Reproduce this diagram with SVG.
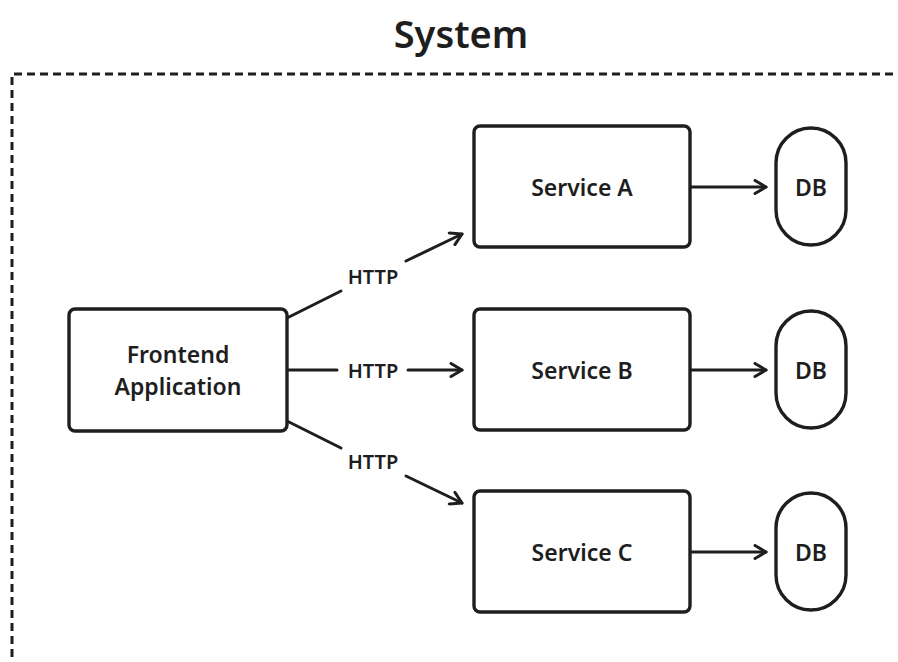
<svg xmlns="http://www.w3.org/2000/svg" width="898" height="662" viewBox="0 0 898 662">
  <defs>
    <marker id="arrow" viewBox="0 0 16 16" refX="14" refY="8" markerWidth="16" markerHeight="16" markerUnits="userSpaceOnUse" orient="auto">
      <path d="M3,1.5 L14,8 L3,14.5" fill="none" stroke="#1e1e1e" stroke-width="3" stroke-linecap="round" stroke-linejoin="round"/>
    </marker>
  </defs>
  <style>
    .box { fill: #ffffff; stroke: #1e1e1e; stroke-width: 3.4; }
    .label { font-family: "Noto Sans", "Liberation Sans", sans-serif; font-weight: 600; fill: #1e1e1e; text-anchor: middle; dominant-baseline: central; }
    .node-text { font-size: 23px; }
    .edge-text { font-size: 20px; }
    .edge { fill: none; stroke: #1e1e1e; stroke-width: 3; stroke-linecap: round; }
    .frame { fill: none; stroke: #1e1e1e; stroke-width: 3; stroke-dasharray: 8 5; }
  </style>
  <rect width="898" height="662" fill="#ffffff"/>

  <!-- system boundary -->
  <g id="system">
    <text class="label" x="461" y="33" font-size="38" font-weight="700">System</text>
    <path class="frame" d="M12,670 L12,74 L910,74"/>
  </g>

  <!-- connectors -->
  <g id="connectors">
    <line class="edge" x1="287" y1="318" x2="341" y2="291"/>
    <line class="edge" x1="406" y1="261" x2="462" y2="234" marker-end="url(#arrow)"/>
    <text class="label edge-text" x="373" y="276">HTTP</text>

    <line class="edge" x1="287" y1="370" x2="337" y2="370"/>
    <line class="edge" x1="408" y1="370" x2="462" y2="370" marker-end="url(#arrow)"/>
    <text class="label edge-text" x="373" y="370">HTTP</text>

    <line class="edge" x1="287" y1="421" x2="341" y2="448"/>
    <line class="edge" x1="406" y1="476" x2="462" y2="503" marker-end="url(#arrow)"/>
    <text class="label edge-text" x="373" y="461">HTTP</text>

    <line class="edge" x1="691" y1="187" x2="766" y2="187" marker-end="url(#arrow)"/>
    <line class="edge" x1="691" y1="370" x2="766" y2="370" marker-end="url(#arrow)"/>
    <line class="edge" x1="691" y1="552" x2="766" y2="552" marker-end="url(#arrow)"/>
  </g>

  <g id="frontend">
    <rect class="box" x="69" y="309" width="218" height="122" rx="6"/>
    <text class="label node-text" x="178" y="354">Frontend</text>
    <text class="label node-text" x="178" y="386">Application</text>
  </g>

  <g id="service-a">
    <rect class="box" x="474" y="126" width="216" height="121" rx="6"/>
    <text class="label node-text" x="582" y="187">Service A</text>
  </g>
  <g id="service-b">
    <rect class="box" x="474" y="309" width="216" height="121" rx="6"/>
    <text class="label node-text" x="582" y="370">Service B</text>
  </g>
  <g id="service-c">
    <rect class="box" x="474" y="491" width="216" height="121" rx="6"/>
    <text class="label node-text" x="582" y="552">Service C</text>
  </g>

  <g id="db-a">
    <rect class="box" x="776" y="128" width="70" height="117" rx="35"/>
    <text class="label node-text" x="811" y="187" font-size="20">DB</text>
  </g>
  <g id="db-b">
    <rect class="box" x="776" y="311" width="70" height="117" rx="35"/>
    <text class="label node-text" x="811" y="370" font-size="20">DB</text>
  </g>
  <g id="db-c">
    <rect class="box" x="776" y="493" width="70" height="117" rx="35"/>
    <text class="label node-text" x="811" y="552" font-size="20">DB</text>
  </g>
</svg>
